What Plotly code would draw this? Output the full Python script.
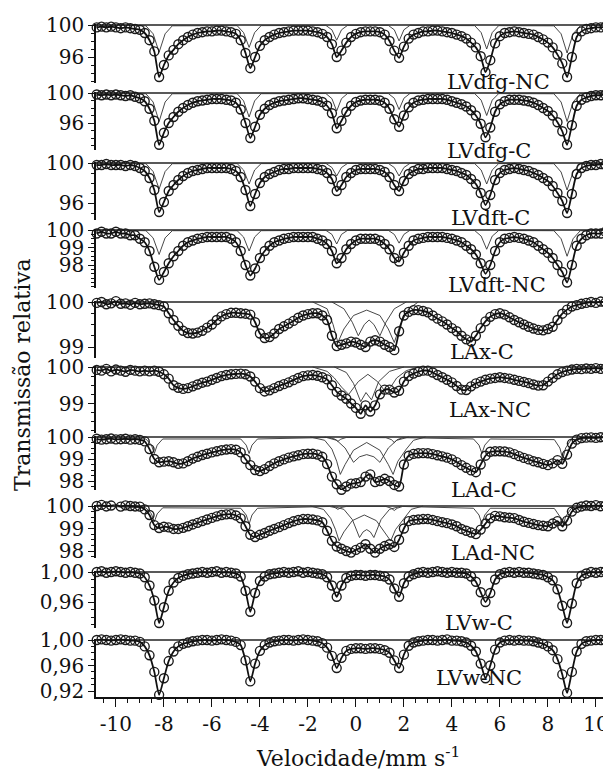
import plotly.graph_objects as go

# ---------------- data ----------------
velocity = [
    -10.8, -10.6, -10.4, -10.2, -10.0, -9.8, -9.6, -9.4, -9.2, -9.0,
    -8.8, -8.6, -8.4, -8.2, -8.0, -7.8, -7.6, -7.4, -7.2, -7.0,
    -6.8, -6.6, -6.4, -6.2, -6.0, -5.8, -5.6, -5.4, -5.2, -5.0,
    -4.8, -4.6, -4.4, -4.2, -4.0, -3.8, -3.6, -3.4, -3.2, -3.0,
    -2.8, -2.6, -2.4, -2.2, -2.0, -1.8, -1.6, -1.4, -1.2, -1.0,
    -0.8, -0.6, -0.4, -0.2, 0.0, 0.2, 0.4, 0.6, 0.8, 1.0,
    1.2, 1.4, 1.6, 1.8, 2.0, 2.2, 2.4, 2.6, 2.8, 3.0,
    3.2, 3.4, 3.6, 3.8, 4.0, 4.2, 4.4, 4.6, 4.8, 5.0,
    5.2, 5.4, 5.6, 5.8, 6.0, 6.2, 6.4, 6.6, 6.8, 7.0,
    7.2, 7.4, 7.6, 7.8, 8.0, 8.2, 8.4, 8.6, 8.8, 9.0,
    9.2, 9.4, 9.6, 9.8, 10.0, 10.2, 10.4, 10.6]

lvdfg_nc = [
    99.7, 99.8, 99.7, 99.8, 99.7, 99.6, 99.7, 99.6, 99.5, 99.4,
    99.0, 98.1, 96.7, 93.5, 95.0, 96.2, 96.9, 97.6, 98.1, 98.5,
    98.8, 99.0, 99.1, 99.2, 99.2, 99.3, 99.3, 99.2, 99.1, 98.9,
    98.1, 96.5, 94.6, 96.0, 97.4, 98.1, 98.5, 98.8, 99.0, 99.1,
    99.2, 99.3, 99.3, 99.3, 99.3, 99.2, 99.1, 98.9, 98.5, 97.6,
    96.0, 96.8, 97.8, 98.5, 98.9, 99.1, 99.2, 99.2, 99.2, 99.1,
    98.8, 98.0, 96.8, 95.9, 97.3, 98.3, 98.8, 99.0, 99.2, 99.2,
    99.3, 99.3, 99.2, 99.1, 99.0, 98.8, 98.6, 98.3, 97.8, 97.2,
    96.1, 94.1, 95.6, 97.7, 98.6, 99.0, 99.1, 99.2, 99.1, 99.0,
    98.9, 98.8, 98.5, 98.2, 97.8, 97.2, 96.3, 95.2, 93.5, 96.0,
    98.5, 99.2, 99.5, 99.6, 99.7, 99.7, 99.8, 99.7]

lvdfg_c = [
    99.8, 99.7, 99.8, 99.7, 99.8, 99.7, 99.6, 99.7, 99.5, 99.3,
    98.9, 97.9, 96.3, 93.1, 94.7, 96.0, 96.8, 97.5, 98.0, 98.4,
    98.7, 98.9, 99.0, 99.1, 99.2, 99.2, 99.2, 99.1, 99.0, 98.7,
    97.8, 96.0, 94.0, 95.5, 97.1, 97.9, 98.4, 98.7, 98.9, 99.0,
    99.1, 99.2, 99.3, 99.3, 99.2, 99.1, 99.0, 98.8, 98.3, 97.3,
    95.3, 96.3, 97.5, 98.3, 98.8, 99.0, 99.1, 99.1, 99.1, 99.0,
    98.7, 97.9, 96.5, 95.5, 97.0, 98.1, 98.7, 99.0, 99.1, 99.2,
    99.2, 99.2, 99.2, 99.1, 98.9, 98.7, 98.5, 98.2, 97.7, 97.0,
    95.9, 94.1, 95.4, 97.5, 98.5, 98.9, 99.1, 99.1, 99.1, 99.0,
    98.9, 98.7, 98.4, 98.0, 97.6, 97.0, 96.1, 94.9, 93.1, 95.7,
    98.3, 99.1, 99.4, 99.6, 99.7, 99.7, 99.8, 99.7]

lvdft_c = [
    99.8, 99.8, 99.9, 99.8, 99.8, 99.8, 99.7, 99.8, 99.7, 99.5,
    99.2, 98.5, 97.3, 95.1, 96.1, 97.2, 97.8, 98.3, 98.7, 99.0,
    99.2, 99.3, 99.4, 99.5, 99.5, 99.5, 99.5, 99.5, 99.4, 99.2,
    98.6, 97.3, 95.7, 96.9, 98.0, 98.6, 98.9, 99.1, 99.3, 99.4,
    99.4, 99.5, 99.5, 99.5, 99.5, 99.5, 99.4, 99.3, 99.0, 98.4,
    97.2, 97.8, 98.6, 99.0, 99.3, 99.4, 99.4, 99.4, 99.4, 99.3,
    99.1, 98.6, 97.8, 97.2, 98.2, 98.9, 99.2, 99.4, 99.4, 99.5,
    99.5, 99.5, 99.5, 99.4, 99.3, 99.2, 99.0, 98.8, 98.4, 97.9,
    97.0, 95.8, 96.8, 98.3, 99.0, 99.3, 99.4, 99.5, 99.4, 99.3,
    99.2, 99.0, 98.8, 98.5, 98.2, 97.7, 97.0, 96.2, 95.0, 96.9,
    98.9, 99.5, 99.7, 99.8, 99.8, 99.9, 99.8, 99.8]

lvdft_nc = [
    99.8, 99.9, 99.8, 99.8, 99.9, 99.8, 99.8, 99.7, 99.7, 99.5,
    99.3, 98.8, 97.9, 97.15, 97.6, 98.1, 98.5, 98.8, 99.1, 99.3,
    99.4, 99.5, 99.55, 99.6, 99.6, 99.6, 99.6, 99.6, 99.5, 99.3,
    98.8, 98.0, 97.4, 97.8, 98.4, 98.8, 99.1, 99.3, 99.4, 99.5,
    99.55, 99.6, 99.6, 99.6, 99.6, 99.6, 99.5, 99.4, 99.2, 98.8,
    98.1, 98.4, 98.9, 99.2, 99.4, 99.5, 99.5, 99.5, 99.5, 99.4,
    99.2, 98.9, 98.4, 98.2, 98.7, 99.1, 99.4, 99.5, 99.55, 99.6,
    99.6, 99.6, 99.6, 99.55, 99.5, 99.4, 99.3, 99.1, 98.9, 98.6,
    98.1, 97.5, 98.0, 98.8, 99.3, 99.5, 99.55, 99.6, 99.55, 99.5,
    99.4, 99.3, 99.1, 98.9, 98.7, 98.4, 98.0, 97.6, 97.0, 98.0,
    99.1, 99.5, 99.7, 99.8, 99.8, 99.8, 99.9, 99.8]

lax_c = [
    99.98, 100.0, 99.95, 99.97, 100.02, 99.96, 99.97, 99.94, 99.98, 99.95,
    99.96, 99.97, 99.95, 99.93, 99.9, 99.75, 99.6, 99.47, 99.36, 99.31,
    99.3, 99.32, 99.36, 99.43, 99.5, 99.6, 99.68, 99.73, 99.76, 99.76,
    99.75, 99.74, 99.72, 99.55, 99.3, 99.2, 99.22, 99.3, 99.4, 99.46,
    99.52, 99.58, 99.65, 99.7, 99.73, 99.75, 99.75, 99.7, 99.6, 99.25,
    99.02, 99.05, 99.08, 99.12, 99.1, 99.05, 99.0, 99.12, 99.15, 99.12,
    99.05, 99.0, 98.93, 99.35, 99.7, 99.78, 99.82, 99.82, 99.8, 99.77,
    99.7, 99.63, 99.57, 99.5, 99.42, 99.35, 99.25, 99.17, 99.12, 99.25,
    99.42, 99.57, 99.67, 99.73, 99.75, 99.72, 99.66, 99.6, 99.55, 99.5,
    99.45, 99.41, 99.38, 99.37, 99.4, 99.45, 99.6, 99.74, 99.83, 99.9,
    99.93, 99.96, 99.98, 100.0, 99.98, 100.01, 99.99, 100.0]

lax_nc = [
    99.92, 99.9, 99.95, 99.88, 99.93, 99.9, 99.87, 99.92, 99.9, 99.88,
    99.9, 99.88, 99.9, 99.87, 99.8, 99.68, 99.5, 99.43, 99.4, 99.42,
    99.47, 99.52, 99.57, 99.6, 99.65, 99.7, 99.75, 99.78, 99.8, 99.81,
    99.82, 99.8, 99.74, 99.6, 99.42, 99.33, 99.36, 99.42, 99.48, 99.53,
    99.58, 99.64, 99.7, 99.75, 99.77, 99.78, 99.76, 99.72, 99.66, 99.5,
    99.32, 99.22, 99.13, 99.0, 98.88, 98.72, 98.95, 98.78, 98.95, 99.25,
    99.38, 99.38, 99.3, 99.35, 99.6, 99.75, 99.82, 99.87, 99.9, 99.9,
    99.85, 99.78, 99.72, 99.65, 99.58, 99.48, 99.38, 99.37, 99.47, 99.55,
    99.6, 99.65, 99.68, 99.7, 99.72, 99.7, 99.68, 99.65, 99.62, 99.59,
    99.56, 99.52, 99.49, 99.5, 99.6, 99.7, 99.8, 99.86, 99.9, 99.93,
    99.95, 99.94, 99.96, 99.95, 99.97, 99.95, 99.96, 99.97]

lad_c = [
    99.92, 99.88, 99.9, 99.93, 99.89, 99.9, 99.92, 99.88, 99.9, 99.87,
    99.8, 99.45, 99.0, 98.85, 98.88, 98.9, 98.85, 98.78, 98.8, 98.9,
    99.02, 99.1, 99.18, 99.24, 99.3, 99.35, 99.4, 99.43, 99.45, 99.42,
    99.3, 99.0, 98.72, 98.5, 98.45, 98.54, 98.68, 98.8, 98.9, 98.98,
    99.06, 99.12, 99.17, 99.22, 99.24, 99.24, 99.2, 99.1, 98.77, 98.2,
    97.85, 97.6, 97.75, 97.88, 97.9, 97.95, 98.2, 98.3, 97.95, 98.0,
    98.1, 98.0, 97.82, 97.75, 98.75, 99.15, 99.23, 99.26, 99.27, 99.26,
    99.22, 99.17, 99.12, 99.06, 98.98, 98.86, 98.72, 98.6, 98.48, 98.4,
    98.75, 99.15, 99.33, 99.35, 99.35, 99.34, 99.3, 99.22, 99.13, 99.05,
    98.98, 98.9, 98.85, 98.78, 98.72, 98.8, 98.95, 98.78, 99.2, 99.7,
    99.88, 99.95, 99.97, 99.98, 99.96, 99.99, 99.97, 99.98]

lad_nc = [
    100.0, 100.05, 99.98, 100.02, 100.08, 99.97, 100.03, 100.0, 99.98, 99.97,
    99.85, 99.6, 99.15, 99.02, 99.08, 99.05, 98.98, 98.98, 99.03, 99.1,
    99.18, 99.25, 99.33, 99.4, 99.47, 99.54, 99.6, 99.63, 99.64, 99.58,
    99.45, 99.1, 98.72, 98.62, 98.72, 98.8, 98.9, 98.98, 99.06, 99.15,
    99.24, 99.32, 99.38, 99.42, 99.42, 99.4, 99.36, 99.28, 98.9, 98.45,
    98.2, 98.1, 98.0, 97.93, 98.05, 98.15, 98.3, 98.1, 97.93, 98.1,
    98.22, 98.3, 98.18, 98.5, 99.0, 99.33, 99.38, 99.4, 99.42, 99.42,
    99.38, 99.33, 99.28, 99.24, 99.18, 99.1, 98.98, 98.9, 98.82, 98.75,
    98.95, 99.22, 99.45, 99.56, 99.54, 99.5, 99.48, 99.46, 99.38, 99.3,
    99.25, 99.2, 99.15, 99.12, 99.1, 99.22, 99.33, 99.1, 99.35, 99.75,
    99.92, 99.98, 100.02, 100.0, 100.04, 99.99, 100.01, 100.0]

lvw_c = [
    1.000, 1.001, 0.999, 1.000, 1.001, 1.000, 0.999, 1.000, 0.999, 0.998,
    0.993, 0.982, 0.962, 0.932, 0.953, 0.975, 0.986, 0.992, 0.995, 0.997,
    0.998, 0.999, 1.000, 0.999, 1.000, 1.001, 0.999, 1.000, 0.999, 0.998,
    0.994, 0.975, 0.947, 0.972, 0.988, 0.994, 0.997, 0.998, 0.999, 1.000,
    0.999, 1.000, 1.001, 0.999, 1.000, 0.999, 0.998, 0.997, 0.993, 0.982,
    0.967, 0.982, 0.992, 0.995, 0.996, 0.996, 0.995, 0.996, 0.996, 0.995,
    0.994, 0.990, 0.978, 0.967, 0.985, 0.994, 0.997, 0.999, 1.000, 0.999,
    1.000, 1.001, 1.000, 0.999, 1.000, 0.999, 0.999, 0.998, 0.994, 0.987,
    0.973, 0.960, 0.972, 0.990, 0.997, 0.999, 1.000, 0.999, 1.000, 0.999,
    0.999, 0.998, 0.997, 0.996, 0.993, 0.989, 0.977, 0.955, 0.932, 0.958,
    0.985, 0.995, 0.998, 1.000, 0.999, 1.000, 1.001, 1.000]

lvw_nc = [
    1.000, 1.001, 1.000, 0.999, 1.000, 1.001, 1.000, 0.999, 0.999, 0.997,
    0.990, 0.976, 0.950, 0.914, 0.940, 0.967, 0.982, 0.990, 0.994, 0.996,
    0.998, 0.999, 1.000, 1.000, 0.999, 1.000, 1.001, 1.000, 0.999, 0.997,
    0.992, 0.968, 0.935, 0.963, 0.983, 0.992, 0.996, 0.998, 0.999, 1.000,
    1.000, 0.999, 1.000, 1.001, 1.000, 0.999, 0.998, 0.995, 0.988, 0.975,
    0.956, 0.972, 0.983, 0.986, 0.987, 0.987, 0.986, 0.987, 0.987, 0.986,
    0.984, 0.980, 0.968, 0.956, 0.977, 0.991, 0.996, 0.998, 0.999, 1.000,
    1.000, 0.999, 1.000, 1.001, 0.999, 0.999, 0.998, 0.996, 0.991, 0.982,
    0.963, 0.940, 0.960, 0.985, 0.996, 0.999, 1.000, 0.999, 1.000, 0.999,
    0.999, 0.998, 0.996, 0.994, 0.990, 0.984, 0.970, 0.946, 0.917, 0.950,
    0.982, 0.994, 0.998, 0.999, 1.000, 1.000, 0.999, 1.000]

# fitted sub-spectra (velocity / transmission vertices)
sharp_v = [-10.83, -8.75, -8.45, -8.2, -7.95, -7.65, -4.95, -4.68, -4.45, -4.22, -3.95,
           -1.25, -1.0, -0.8, -0.6, -0.35, 1.35, 1.6, 1.8, 2.0, 2.25,
           4.95, 5.22, 5.45, 5.68, 5.95, 8.25, 8.55, 8.8, 9.05, 9.35, 10.63]

lvdfg_nc_sharp = [100.0, 99.9, 98.9, 96.6, 98.9, 99.9, 99.92, 99.05, 97.2, 99.05, 99.92,
                  99.95, 99.4, 98.1, 99.4, 99.95, 99.95, 99.4, 98.0, 99.4, 99.95,
                  99.92, 99.05, 97.0, 99.05, 99.92, 99.9, 98.9, 96.5, 98.9, 99.9, 100.0]
lvdfg_c_sharp = [100.0, 99.9, 98.8, 96.2, 98.8, 99.9, 99.91, 98.95, 96.8, 98.95, 99.91,
                 99.93, 99.25, 97.6, 99.25, 99.93, 99.93, 99.3, 97.8, 99.3, 99.93,
                 99.92, 99.05, 97.0, 99.05, 99.92, 99.9, 98.8, 96.2, 98.8, 99.9, 100.0]
lvdft_c_sharp = [100.0, 99.93, 99.15, 97.4, 99.15, 99.93, 99.94, 99.3, 97.9, 99.3, 99.94,
                 99.96, 99.55, 98.7, 99.55, 99.96, 99.96, 99.55, 98.7, 99.55, 99.96,
                 99.94, 99.3, 97.9, 99.3, 99.94, 99.93, 99.1, 97.3, 99.1, 99.93, 100.0]
lvdft_nc_sharp = [100.0, 99.96, 99.55, 98.6, 99.55, 99.96, 99.96, 99.6, 98.8, 99.6, 99.96,
                  99.98, 99.75, 99.2, 99.75, 99.98, 99.98, 99.75, 99.25, 99.75, 99.98,
                  99.97, 99.65, 98.9, 99.65, 99.97, 99.96, 99.5, 98.5, 99.5, 99.96, 100.0]

lax_c_d1_v = [-1.8, -1.2, -0.95, -0.75, -0.5, -0.1, 0.45, 1.0, 1.35, 1.6, 1.85, 2.2, 2.6]
lax_c_d1_y = [100.0, 99.85, 99.5, 99.1, 99.4, 99.7, 99.82, 99.7, 99.4, 99.1, 99.5, 99.85, 100.0]
lax_c_d2_v = [-1.0, -0.5, -0.15, 0.1, 0.35, 0.55, 0.75, 1.0, 1.25, 1.6, 2.1]
lax_c_d2_y = [100.0, 99.85, 99.55, 99.25, 99.5, 99.6, 99.5, 99.25, 99.55, 99.85, 100.0]

lax_nc_d1_v = [-1.8, -1.2, -0.9, -0.6, -0.3, 0.1, 0.5, 0.9, 1.2, 1.45, 1.7, 2.1, 2.6]
lax_nc_d1_y = [100.0, 99.88, 99.7, 99.45, 99.25, 99.6, 99.8, 99.6, 99.35, 99.45, 99.7, 99.9, 100.0]
lax_nc_d2_v = [-0.9, -0.4, -0.1, 0.2, 0.42, 0.65, 0.95, 1.4, 2.0]
lax_nc_d2_y = [100.0, 99.85, 99.55, 99.05, 99.3, 99.1, 99.6, 99.88, 100.0]

weak_v = [-10.83, -8.75, -8.52, -8.4, -8.28, -8.05, -4.8, -4.57, -4.45, -4.33, -4.1,
          -1.1, -0.87, -0.75, -0.63, -0.4, 1.25, 1.48, 1.6, 1.72, 1.95,
          4.9, 5.13, 5.25, 5.37, 5.6, 8.27, 8.5, 8.62, 8.74, 8.97, 10.63]
lad_c_weak = [100.0, 99.91, 99.63, 99.25, 99.63, 99.91, 99.91, 99.63, 99.25, 99.63, 99.91,
              99.98, 99.9, 99.8, 99.9, 99.98, 99.97, 99.88, 99.75, 99.88, 99.97,
              99.91, 99.63, 99.25, 99.63, 99.91, 99.88, 99.5, 99.0, 99.5, 99.88, 100.0]
lad_nc_weak = [100.0, 99.92, 99.65, 99.3, 99.65, 99.92, 99.9, 99.6, 99.2, 99.6, 99.9,
               99.98, 99.93, 99.85, 99.93, 99.98, 99.98, 99.9, 99.8, 99.9, 99.98,
               99.9, 99.6, 99.2, 99.6, 99.9, 99.89, 99.53, 99.05, 99.53, 99.89, 100.0]

lad_c_d1_v = [-1.9, -1.3, -1.0, -0.8, -0.65, -0.45, -0.1, 0.45, 1.0, 1.35, 1.55, 1.75, 2.1, 2.4, 2.9]
lad_c_d1_y = [100.0, 99.85, 99.45, 98.9, 98.3, 98.75, 99.4, 99.75, 99.4, 98.75, 98.3, 98.9, 99.45, 99.85, 100.0]
lad_c_d2_v = [-1.3, -0.8, -0.45, -0.1, 0.15, 0.45, 0.75, 1.0, 1.35, 1.7, 2.2]
lad_c_d2_y = [100.0, 99.85, 99.5, 98.85, 99.1, 99.2, 99.1, 98.85, 99.5, 99.85, 100.0]

lad_nc_d1_v = [-1.9, -1.35, -1.05, -0.85, -0.7, -0.5, -0.15, 0.35, 0.85, 1.2, 1.45, 1.65, 2.0, 2.3, 2.8]
lad_nc_d1_y = [100.0, 99.85, 99.45, 98.95, 98.45, 98.85, 99.35, 99.6, 99.35, 98.85, 98.45, 98.95, 99.45, 99.85, 100.0]
lad_nc_d2_v = [-1.0, -0.5, -0.15, 0.15, 0.3, 0.45, 0.6, 0.75, 1.05, 1.4, 1.9]
lad_nc_d2_y = [100.0, 99.85, 99.4, 98.6, 98.85, 98.95, 98.85, 98.6, 99.4, 99.85, 100.0]

sample_labels = ["LVdfg-NC", "LVdfg-C", "LVdft-C", "LVdft-NC", "LAx-C",
                 "LAx-NC", "LAd-C", "LAd-NC", "LVw-C", "LVw-NC"]
x_tick_values = [-10, -8, -6, -4, -2, 0, 2, 4, 6, 8, 10]
x_tick_text = ["-10", "-8", "-6", "-4", "-2", "0", "2", "4", "6", "8", "10"]

for arr in [lvdfg_nc, lvdfg_c, lvdft_c, lvdft_nc, lax_c, lax_nc, lad_c, lad_nc, lvw_c, lvw_nc]:
    assert len(arr) == len(velocity), len(arr)

# ---------------- layout geometry ----------------
OFF = 8
W, H = 611 - OFF, 774 - OFF
FONT = "DejaVu Serif"
TICK_SIZE = 20
V_MIN, V_MAX = -10.83, 10.63
X_LEFT = 96 - OFF


def fx(px):
    return (px - OFF) / W


def fy(py):
    return 1 - (py - OFF) / H


panels = [
    dict(data=lvdfg_nc, comps=[(sharp_v, lvdfg_nc_sharp)], top=100,
         ypx=25, s=8.0, bot=83, tv=[100, 96], tt=["100", "96"], minor=1, lab=(498, 82)),
    dict(data=lvdfg_c, comps=[(sharp_v, lvdfg_c_sharp)], top=100,
         ypx=93, s=7.5, bot=150, tv=[100, 96], tt=["100", "96"], minor=1, lab=(489, 151)),
    dict(data=lvdft_c, comps=[(sharp_v, lvdft_c_sharp)], top=100,
         ypx=163, s=10.0, bot=220, tv=[100, 96], tt=["100", "96"], minor=1, lab=(490, 218)),
    dict(data=lvdft_nc, comps=[(sharp_v, lvdft_nc_sharp)], top=100,
         ypx=230, s=17.5, bot=288, tv=[100, 99, 98], tt=["100", "99", "98"], minor=0.25, lab=(497, 285)),
    dict(data=lax_c, comps=[(lax_c_d1_v, lax_c_d1_y), (lax_c_d2_v, lax_c_d2_y)], top=100,
         ypx=302, s=45.0, bot=358, tv=[100, 99], tt=["100", "99"], minor=0.25, lab=(482, 352)),
    dict(data=lax_nc, comps=[(lax_nc_d1_v, lax_nc_d1_y), (lax_nc_d2_v, lax_nc_d2_y)], top=100,
         ypx=367, s=36.5, bot=433, tv=[100, 99], tt=["100", "99"], minor=0.25, lab=(490, 410)),
    dict(data=lad_c, comps=[(weak_v, lad_c_weak), (lad_c_d1_v, lad_c_d1_y), (lad_c_d2_v, lad_c_d2_y)], top=100,
         ypx=437, s=22.0, bot=490, tv=[100, 99, 98], tt=["100", "99", "98"], minor=0.25, lab=(484, 490)),
    dict(data=lad_nc, comps=[(weak_v, lad_nc_weak), (lad_nc_d1_v, lad_nc_d1_y), (lad_nc_d2_v, lad_nc_d2_y)], top=100,
         ypx=506, s=22.5, bot=558, tv=[100, 99, 98], tt=["100", "99", "98"], minor=0.25, lab=(493, 553)),
    dict(data=lvw_c, comps=[], top=1.0,
         ypx=572, s=750.0, bot=628, tv=[1.0, 0.96], tt=["1,00", "0,96"], minor=0.01, lab=(479, 623)),
    dict(data=lvw_nc, comps=[], top=1.0,
         ypx=640, s=637.5, bot=697, tv=[1.0, 0.96, 0.92], tt=["1,00", "0,96", "0,92"], minor=0.01, lab=(479, 678)),
]

fig = go.Figure()
layout_axes = {}
annotations = []

for i, p in enumerate(panels):
    n = i + 1
    yname = "y" if n == 1 else f"y{n}"
    ykey = "yaxis" if n == 1 else f"yaxis{n}"
    pad = 1.5
    top_val = p["top"] + pad / p["s"]
    bot_val = p["top"] - (p["bot"] - p["ypx"]) / p["s"]
    layout_axes[ykey] = dict(
        domain=[fy(p["bot"]), fy(p["ypx"] - pad)],
        range=[bot_val, top_val], anchor="x", automargin=False,
        showline=True, linecolor="#111", linewidth=1.5,
        ticks="outside", ticklen=6, tickwidth=1.3, tickcolor="#111",
        tickmode="array", tickvals=p["tv"], ticktext=p["tt"],
        tickfont=dict(family=FONT, size=TICK_SIZE, color="#111"),
        minor=dict(dtick=p["minor"], ticks="outside", ticklen=3, tickwidth=1, tickcolor="#111"),
        showgrid=False, zeroline=False, fixedrange=True,
    )
    fig.add_trace(go.Scatter(x=[V_MIN, V_MAX], y=[p["top"], p["top"]], mode="lines",
                             line=dict(color="#222", width=1.3), xaxis="x", yaxis=yname,
                             showlegend=False, hoverinfo="skip"))
    for cv, cy in p["comps"]:
        fig.add_trace(go.Scatter(x=cv, y=cy, mode="lines",
                                 line=dict(color="#333", width=0.9), xaxis="x", yaxis=yname,
                                 showlegend=False, hoverinfo="skip"))
    fig.add_trace(go.Scatter(x=velocity, y=p["data"], mode="markers",
                             marker=dict(symbol="circle-open", size=9, color="#1a1a1a",
                                         line=dict(width=1.35, color="#1a1a1a")),
                             xaxis="x", yaxis=yname, showlegend=False, cliponaxis=False))
    fig.add_trace(go.Scatter(x=velocity, y=p["data"], mode="lines",
                             line=dict(color="#111", width=1.8, shape="spline", smoothing=0.6),
                             xaxis="x", yaxis=yname, showlegend=False))
    annotations.append(dict(text=sample_labels[i], x=fx(p["lab"][0]), y=fy(p["lab"][1]),
                            xref="paper", yref="paper", xanchor="center", yanchor="middle",
                            showarrow=False, font=dict(family=FONT, size=21, color="#111")))

annotations.append(dict(text="Transmissão relativa", x=fx(22), y=fy(375), xref="paper", yref="paper",
                        textangle=-90, showarrow=False, xanchor="center", yanchor="middle",
                        font=dict(family=FONT, size=22, color="#111")))
annotations.append(dict(text="Velocidade/mm s<sup>-1</sup>", x=fx(358), y=fy(757),
                        xref="paper", yref="paper", showarrow=False, xanchor="center", yanchor="middle",
                        font=dict(family=FONT, size=22, color="#111")))

fig.update_layout(
    width=W, height=H, margin=dict(l=0, r=0, t=0, b=0, autoexpand=False),
    paper_bgcolor="white", plot_bgcolor="white", showlegend=False,
    font=dict(family=FONT, size=TICK_SIZE, color="#111"),
    xaxis=dict(domain=[X_LEFT / W, 1], range=[V_MIN, V_MAX], anchor="y10", automargin=False,
               showline=True, linecolor="#111", linewidth=1.5,
               ticks="outside", ticklen=8, tickwidth=1.3, tickcolor="#111",
               tickmode="array", tickvals=x_tick_values, ticktext=x_tick_text,
               tickfont=dict(family=FONT, size=TICK_SIZE, color="#111"),
               minor=dict(dtick=0.5, ticks="outside", ticklen=4, tickwidth=1, tickcolor="#111"),
               showgrid=False, zeroline=False, fixedrange=True),
    annotations=annotations,
    **layout_axes,
)

fig.write_html("out.html")
